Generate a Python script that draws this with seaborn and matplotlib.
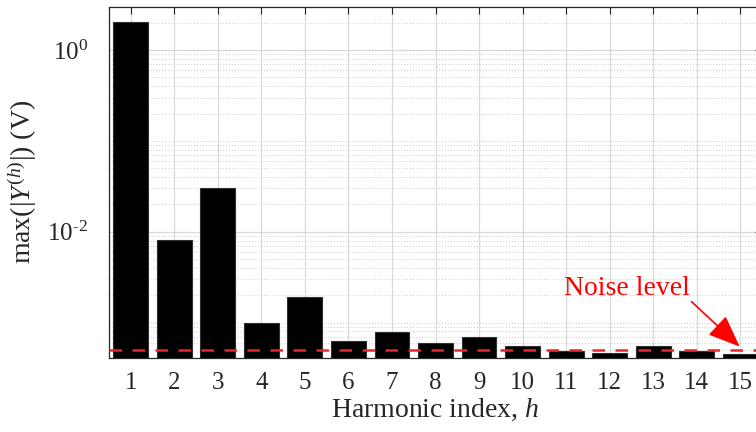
import numpy as np
import pandas as pd
import matplotlib
matplotlib.use("Agg")
import matplotlib.pyplot as plt
import matplotlib.ticker as mticker
import seaborn as sns

# ---- data ----
harmonics = list(range(1, 16))
amplitudes = [2.05, 8.1e-3, 3.05e-2, 9.8e-4, 1.9e-3, 6.3e-4, 7.9e-4, 5.9e-4,
              7.0e-4, 5.5e-4, 4.85e-4, 4.6e-4, 5.5e-4, 4.9e-4, 4.55e-4]
noise_level = 4.93e-4
ytick_values = [1e-2, 1e0]
ytick_labels = [r"$10^{\text{-}2}$", r"$10^{0}$"]
noise_text = "Noise level"

df = pd.DataFrame({"h": [str(h) for h in harmonics], "amp": amplitudes})

sns.set_theme(style="white")
plt.rcParams["font.family"] = ["Liberation Serif", "DejaVu Serif"]
plt.rcParams["mathtext.fontset"] = "custom"
plt.rcParams["mathtext.rm"] = "Liberation Serif"
plt.rcParams["mathtext.it"] = "Liberation Serif:italic"
plt.rcParams["mathtext.bf"] = "Liberation Serif:bold"

txt = "#262626"
fig = plt.figure(figsize=(7.56, 4.32), dpi=100)
ax = fig.add_axes([109 / 756, 74.3 / 432, (762 - 109) / 756, (357.7 - 6.7) / 432])
ax.set_yscale("log")

sns.barplot(data=df, x="h", y="amp", color="black", edgecolor="#303030",
            linewidth=0.8, width=0.8, saturation=1, ax=ax, zorder=2)

ax.set_xlim(-0.5, 14.5)
ax.set_ylim(4.1e-4, 3.0)

ax.yaxis.set_major_locator(mticker.FixedLocator(ytick_values))
ax.yaxis.set_major_formatter(mticker.FixedFormatter(ytick_labels))
minors = [k * 10.0 ** n for n in range(-4, 1) for k in range(1, 10)]
minors = [m for m in minors if not any(np.isclose(m, v) for v in ytick_values)]
ax.yaxis.set_minor_locator(mticker.FixedLocator(minors))
ax.yaxis.set_minor_formatter(mticker.NullFormatter())

ax.set_axisbelow(True)
ax.grid(True, which="major", axis="both", color="#d9d9d9", lw=0.9, ls="-", zorder=0)
ax.grid(True, which="minor", axis="y", color="#cccccc", lw=0.7, ls=(0, (1, 2)), zorder=0)

ax.axhline(noise_level, color="#e8262b", lw=1.8, ls=(0, (5.0, 4.2)), zorder=3)

ax.text(12.84, 2.01e-3, noise_text, color="red", fontsize=20,
        ha="right", va="baseline", zorder=4)
ax.annotate("", xy=(13.99, 5.42e-4), xytext=(12.88, 1.7e-3),
            arrowprops=dict(arrowstyle="-|>,head_length=0.5,head_width=0.2",
                            mutation_scale=40, color="red", lw=1.2,
                            shrinkA=0, shrinkB=0),
            zorder=4)

ax.set_xlabel(r"Harmonic index, $h$", fontsize=20, color=txt, labelpad=2)
ax.set_ylabel(r"max(|$Y^{(h)}$|) (V)", fontsize=20, color=txt, labelpad=6)

ax.tick_params(axis="both", which="both", direction="in", colors=txt,
               labelsize=18, top=True, right=True)
ax.tick_params(axis="x", which="major", length=5, width=0.8, pad=10)
ax.tick_params(axis="y", which="major", length=5, width=0.8, pad=15)
ax.tick_params(axis="y", which="minor", length=3.5, width=0.6)

for s in ax.spines.values():
    s.set_color(txt)
    s.set_linewidth(0.9)
    s.set_visible(True)

fig.savefig("out.png", dpi=100)
